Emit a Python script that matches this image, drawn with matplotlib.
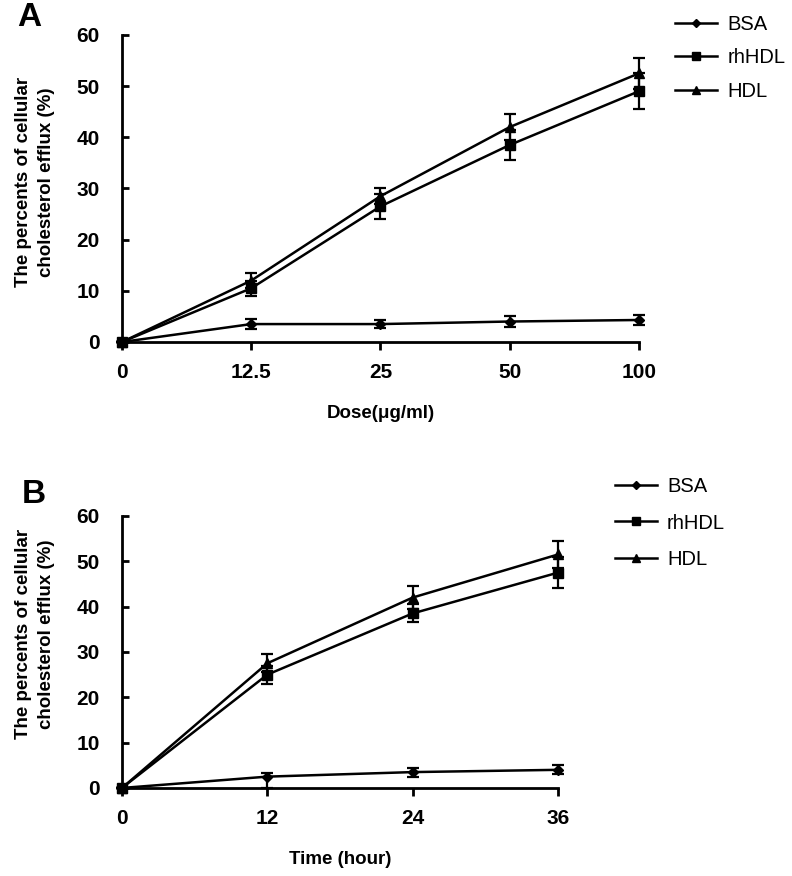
import matplotlib.pyplot as plt
from matplotlib.lines import Line2D

plt.rcParams["font.family"] = ["Liberation Sans", "DejaVu Sans"]

# ── data ──────────────────────────────────────────────────────────────────────
DOSE_LABELS = ["0", "12.5", "25", "50", "100"]
BSA_A       = [0, 3.5, 3.5, 4.0, 4.3]
BSA_A_ERR   = [0, 1.0, 0.8, 1.0, 1.0]
RH_A        = [0, 10.5, 26.5, 38.5, 49.0]
RH_A_ERR    = [0, 1.5, 2.5, 3.0, 3.5]
HDL_A       = [0, 12.0, 28.5, 42.0, 52.5]
HDL_A_ERR   = [0, 1.5, 1.5, 2.5, 3.0]

TIME_LABELS = ["0", "12", "24", "36"]
BSA_B       = [0, 2.5, 3.5, 4.0]
BSA_B_LO    = [0, 2.5, 1.0, 1.0]
BSA_B_HI    = [0, 0.8, 1.0, 1.0]
RH_B        = [0, 25.0, 38.5, 47.5]
RH_B_ERR    = [0, 2.0, 2.0, 3.5]
HDL_B       = [0, 27.5, 42.0, 51.5]
HDL_B_ERR   = [0, 2.0, 2.5, 3.0]

NAMES   = ["BSA", "rhHDL", "HDL"]
MARKERS = [("D", 5), ("s", 6.5), ("^", 7.5)]
YLABEL  = "The percents of cellular\ncholesterol efflux (%)"


def draw(ax, labels, series, xlabel, ylab_xy, leg_xy, leg_space):
    xs = list(range(len(labels)))
    for (vals, err), (m, ms) in zip(series, MARKERS):
        ax.errorbar(xs, vals, yerr=err, marker=m, markersize=ms, color="black",
                    linewidth=1.8, capsize=4, elinewidth=1.6, capthick=1.6,
                    clip_on=False, zorder=3)

    ax.set_xlim(0, len(labels) - 1)
    ax.set_ylim(0, 60)
    ax.set_xticks(xs)
    ax.set_xticklabels(labels)
    ax.set_yticks(range(0, 61, 10))
    for s in ("top", "right"):
        ax.spines[s].set_visible(False)
    for s in ("left", "bottom"):
        ax.spines[s].set_linewidth(2)
    ax.tick_params(axis="y", direction="in", length=5, width=2, labelsize=15, pad=16)
    ax.tick_params(axis="x", direction="out", length=6, width=2, labelsize=15, pad=9)
    for t in ax.get_xticklabels() + ax.get_yticklabels():
        t.set_fontweight("bold")
    ax.set_xlabel(xlabel, fontsize=13.5, fontweight="bold", labelpad=17)
    ax.set_ylabel(YLABEL, fontsize=13.5, fontweight="bold", linespacing=1.45)
    ax.yaxis.set_label_coords(*ylab_xy)

    # legend shows plain line+marker, no error bars
    handles = [Line2D([], [], color="black", linewidth=1.8, marker=m, markersize=ms * 0.8)
               for m, ms in MARKERS]
    ax.legend(handles, NAMES, loc="upper left", bbox_to_anchor=leg_xy,
              bbox_transform=fig.transFigure, frameon=False, fontsize=14.5,
              handlelength=2.1, labelspacing=leg_space, handletextpad=0.5,
              borderaxespad=0, borderpad=0)


fig = plt.figure(figsize=(7.92, 8.76), dpi=100)
axA = fig.add_axes([0.154, 0.6096, 0.6528, 0.3505])
axB = fig.add_axes([0.154, 0.1005, 0.5505, 0.3105])

draw(axA, DOSE_LABELS,
     [(BSA_A, BSA_A_ERR), (RH_A, RH_A_ERR), (HDL_A, HDL_A_ERR)],
     "Dose(μg/ml)", (-0.130, 0.52), (0.852, 0.983), 0.72)
draw(axB, TIME_LABELS,
     [(BSA_B, [BSA_B_LO, BSA_B_HI]), (RH_B, RH_B_ERR), (HDL_B, HDL_B_ERR)],
     "Time (hour)", (-0.154, 0.566), (0.776, 0.455), 0.85)

fig.text(0.037, 0.980, "A", fontsize=24, fontweight="bold", ha="center", va="center")
fig.text(0.043, 0.436, "B", fontsize=24, fontweight="bold", ha="center", va="center")

fig.savefig("out.png", dpi=100)
